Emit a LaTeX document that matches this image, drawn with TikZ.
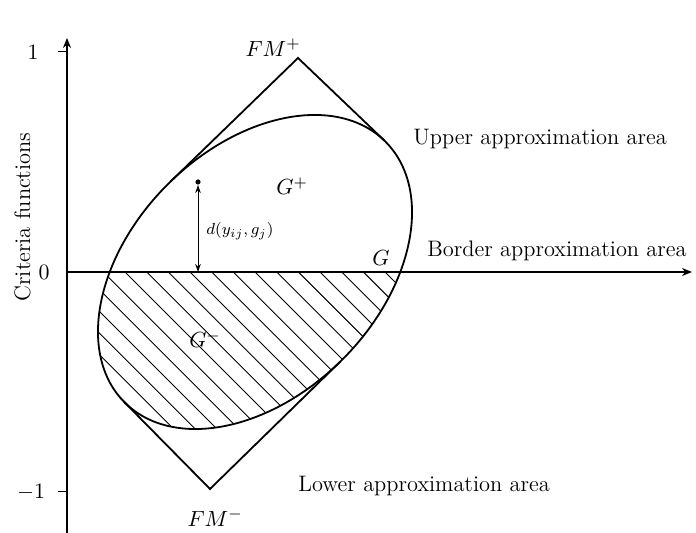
\documentclass[tikz,border=0pt]{standalone}
\usepackage{amsmath}
\usetikzlibrary{arrows.meta,positioning}

\begin{document}
\begin{tikzpicture}[x=0.5pt,y=0.5pt,>={Stealth[length=5pt,width=4pt]},
  font=\fontsize{11.2}{13}\selectfont,
  axis/.style={line width=0.8pt},
  curve/.style={line width=0.9pt},
  hatch/.style={line width=0.45pt},
  lbl/.style={inner sep=0pt},
  area/.style={anchor=base west,inner sep=0pt}]
\useasboundingbox (-67,-261) rectangle (629,272);
% axes
\coordinate (o) at (0,0);
\coordinate (ytop) at (0,234);
\coordinate (ybot) at (0,-261);
\coordinate (xend) at (625,0);
\coordinate (one) at (0,220);
\coordinate (mone) at (0,-220);
\draw[axis,->] (ybot) -- (ytop);
\draw[axis,->] (o) -- (xend);
\draw[line width=0.5pt] (one) -- ++(-9,0) (mone) -- ++(-9,0);
\node[lbl] (lone) at (-34,220) {$1$};
\node[lbl] (lzero) at (-23,0) {$0$};
\node[lbl] (lmone) at (-36,-220) {$-1$};
\node[lbl,rotate=90,anchor=base] (ylbl) at (-37,55) {Criteria functions};
% set G and its hatched lower part
\coordinate (ctr) at (188,0);
\begin{scope}
  \clip (-67,0) rectangle (629,-261);
  \clip[rotate around={45:(ctr)}] (ctr) ellipse [x radius=184.4, y radius=123.7];
  \foreach \k in {-7,...,16}
    \draw[hatch] (58+21.67*\k,0) -- ++(270,-270);
\end{scope}
\draw[curve,rotate around={45:(ctr)}] (ctr) ellipse [x radius=184.4, y radius=123.7];
% tangents to FM+ and FM-
\coordinate (fmp) at (231,214);
\coordinate (tpl) at (103.6,90.45);
\coordinate (tpr) at (317.1,131.7);
\coordinate (fmm) at (143,-217);
\coordinate (tml) at (57.2,-130.0);
\coordinate (tmr) at (273.2,-89.66);
\draw[curve,line join=miter] (tpl) -- (fmp) -- (tpr);
\draw[curve,line join=miter] (tml) -- (fmm) -- (tmr);
\node[lbl,above left=0.5pt and -1.5pt of fmp] (fmplbl) {$FM^{+}$};
\node[lbl,below=9.5pt of fmm,xshift=2.5pt] (fmmlbl) {$FM^{-}$};
% labels inside
\node[lbl,anchor=base] (gp) at (225,77) {$G^{+}$};
\node[lbl,anchor=base] (gm) at (138,-76) {$G^{-}$};
\node[lbl,anchor=base] (g) at (314,6) {$G$};
% distance
\node[circle,fill,inner sep=0pt,minimum size=2.6pt] (pt) at (131,90) {};
\draw[line width=0.5pt,<->,>={Stealth[length=4pt,width=2.8pt]}] (pt.south) -- (pt.south |- o);
\node[area,font=\fontsize{8}{10}\selectfont] (dist) at (139,37) {$d(y_{ij},g_j)$};
% areas
\node[area] (upper) at (346,127) {Upper approximation area};
\node[area] (border) at (360,15) {Border approximation area};
\node[area] (lower) at (231,-220) {Lower approximation area};
\end{tikzpicture}
\end{document}
